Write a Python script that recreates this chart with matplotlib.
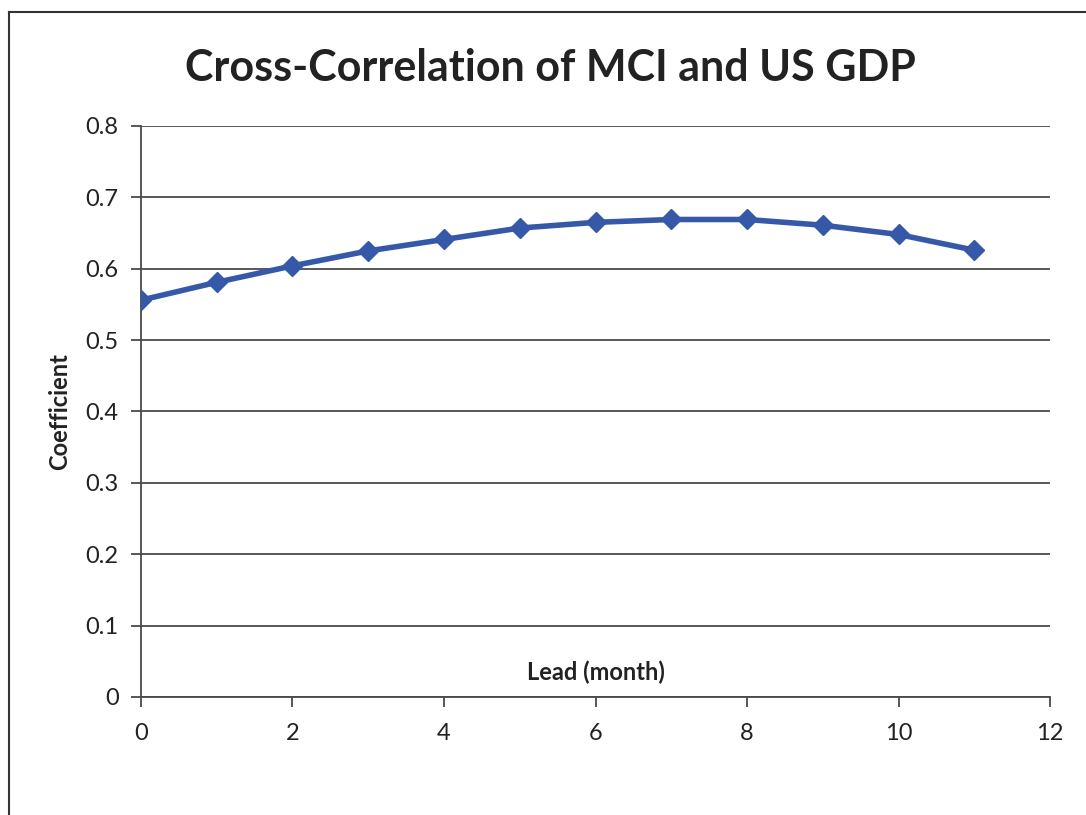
import numpy as np
import matplotlib.pyplot as plt
from matplotlib.lines import Line2D

# lead (months) and cross-correlation coefficient
lead = [0, 1, 2, 3, 4, 5, 6, 7, 8, 9, 10, 11]
coef = [0.556, 0.581, 0.604, 0.625, 0.641, 0.657, 0.665, 0.669, 0.669, 0.661, 0.648, 0.626]

xticks = [0, 2, 4, 6, 8, 10, 12]
yticks = [0, 0.1, 0.2, 0.3, 0.4, 0.5, 0.6, 0.7, 0.8]

plt.rcParams['font.family'] = ['Lato', 'DejaVu Sans']

fig = plt.figure(figsize=(10.86, 8.15), dpi=100)
ax = fig.add_axes([0.1298, 0.1448, 0.8371, 0.7006])

grid_col = '#4a4a4a'
ax.set_axisbelow(True)
ax.yaxis.grid(True, color=grid_col, linewidth=1.3)
ax.plot(lead, coef, color='#3559a8', linewidth=4, marker='D', markersize=10,
        markeredgecolor='#3559a8', solid_capstyle='round', zorder=3)

ax.set_xlim(0, 12)
ax.set_ylim(0, 0.8)
ax.set_xticks(xticks)
ax.set_xticklabels([str(t) for t in xticks])
ax.set_yticks(yticks)
ax.set_yticklabels(['0' if t == 0 else '%.1f' % t for t in yticks])
ax.tick_params(axis='both', labelsize=17, colors=grid_col, labelcolor='#222222',
               width=1.3, length=7, direction='out')
ax.tick_params(axis='x', pad=12)
ax.tick_params(axis='y', pad=9)

for s in ['top', 'right']:
    ax.spines[s].set_visible(False)
for s in ['left', 'bottom']:
    ax.spines[s].set_color(grid_col)
    ax.spines[s].set_linewidth(1.3)

ax.text(0.5, 0.022, 'Lead (month)', transform=ax.transAxes, ha='center', va='bottom',
        fontsize=17, fontweight='bold', color='#222222')
fig.text(60 / 1086, 1 - 412 / 815, 'Coefficient', rotation=90, ha='center', va='center',
         fontsize=17, fontweight='bold', color='#222222')
fig.text(550 / 1086, 1 - 68 / 815, 'Cross-Correlation of MCI and US GDP', ha='center',
         va='center', fontsize=31, fontweight='bold', color='#222222')

# outer chart frame (left and top edges visible)
fig.add_artist(Line2D([9 / 1086, 9 / 1086], [0, 1 - 12 / 815], transform=fig.transFigure,
                      color='#333333', linewidth=1.5))
fig.add_artist(Line2D([9 / 1086, 1], [1 - 12 / 815, 1 - 12 / 815], transform=fig.transFigure,
                      color='#333333', linewidth=1.5))

fig.savefig('out.png', dpi=100)
